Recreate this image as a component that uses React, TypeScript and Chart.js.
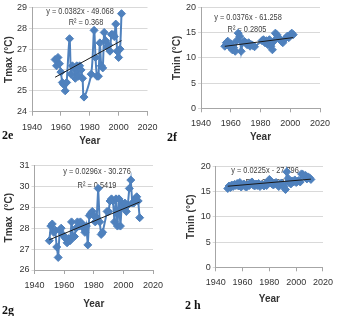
import React, { useEffect, useRef } from "react";
import { Chart, registerables } from "chart.js";

Chart.register(...registerables);

// ---- data -----------------------------------------------------------------

// Year axis ticks shared by all four panels
const yearTicks = [1940, 1960, 1980, 2000, 2020];

// 2e: annual maximum temperature
const yearsE = [1956, 1957, 1958, 1959, 1960, 1961, 1962, 1963, 1964, 1966, 1967, 1968, 1969, 1970, 1971, 1972, 1973, 1974, 1975, 1976, 1981, 1983, 1984, 1985, 1986, 1987, 1988, 1989, 1990, 1991, 1992, 1993, 1994, 1995, 1996, 1997, 1998, 1999, 2000, 2001, 2002];
const tmaxE = [26.5, 26.2, 26.6, 26.3, 25.9, 25.4, 25.3, 25.0, 25.4, 27.5, 25.8, 26.2, 26.1, 25.6, 26.2, 25.7, 26.2, 26.0, 25.6, 24.7, 25.8, 27.9, 26.6, 25.7, 25.7, 27.3, 26.2, 26.1, 27.8, 27.4, 27.1, 27.2, 26.9, 27.7, 27.7, 27.6, 28.2, 26.9, 26.6, 27.0, 28.7];
const ticksE = [24, 25, 26, 27, 28, 29];
const slopeE = 0.0382;
const interceptE = -49.068;
const r2E = "0.368";

// 2f: annual minimum temperature
const yearsF = [1956, 1957, 1958, 1959, 1960, 1961, 1962, 1963, 1964, 1965, 1966, 1967, 1968, 1969, 1970, 1971, 1972, 1973, 1974, 1975, 1976, 1981, 1982, 1983, 1984, 1985, 1986, 1987, 1988, 1989, 1990, 1991, 1992, 1993, 1994, 1995, 1996, 1997, 1998, 1999, 2000, 2001, 2002];
const tminF = [12.3, 13.0, 13.3, 12.3, 12.8, 11.6, 12.0, 11.3, 13.4, 14.9, 14.3, 11.3, 13.0, 13.3, 13.0, 12.6, 13.0, 12.3, 12.6, 12.4, 12.2, 13.4, 13.6, 13.0, 13.4, 12.6, 13.6, 12.3, 11.6, 13.3, 14.9, 14.6, 14.1, 13.6, 13.3, 13.0, 13.6, 13.9, 14.3, 14.0, 14.6, 14.9, 14.6];
const ticksF = [0, 5, 10, 15, 20];
const slopeF = 0.0376;
const interceptF = -61.258;
const r2F = "0.2805";

// 2g: annual maximum temperature
const yearsG = [1950, 1951, 1952, 1953, 1954, 1955, 1956, 1957, 1958, 1959, 1960, 1961, 1962, 1963, 1964, 1965, 1966, 1967, 1968, 1969, 1970, 1971, 1972, 1973, 1974, 1975, 1976, 1977, 1978, 1979, 1980, 1981, 1982, 1983, 1984, 1985, 1986, 1989, 1990, 1991, 1992, 1993, 1994, 1995, 1996, 1997, 1998, 1999, 2000, 2001, 2002, 2003, 2004, 2005, 2006, 2007, 2008, 2009, 2010, 2011];
const tmaxG = [27.4, 28.1, 28.2, 27.8, 27.9, 27.1, 26.6, 27.9, 28.0, 27.7, 27.6, 27.5, 27.3, 27.5, 27.4, 28.3, 27.6, 27.6, 28.0, 28.3, 28.1, 28.3, 28.2, 28.0, 27.8, 28.1, 27.2, 28.6, 28.7, 28.8, 28.6, 28.3, 28.5, 29.9, 28.3, 27.7, 27.8, 28.8, 28.8, 29.3, 29.4, 29.3, 28.3, 29.4, 28.1, 29.4, 28.1, 29.2, 29.0, 29.2, 28.8, 29.1, 29.9, 30.3, 29.2, 29.2, 29.4, 29.5, 29.3, 28.5];
const ticksG = [26, 27, 28, 29, 30, 31];
const slopeG = 0.0296;
const interceptG = -30.276;
const r2G = "0.5419";

// 2h: annual minimum temperature
const yearsH = [1949, 1950, 1951, 1952, 1953, 1954, 1955, 1956, 1957, 1958, 1959, 1960, 1961, 1962, 1963, 1964, 1965, 1966, 1967, 1968, 1969, 1970, 1971, 1972, 1973, 1974, 1975, 1976, 1977, 1978, 1979, 1980, 1981, 1982, 1983, 1984, 1985, 1986, 1987, 1988, 1989, 1990, 1991, 1992, 1993, 1994, 1995, 1996, 1997, 1998, 1999, 2000, 2001, 2002, 2003, 2004, 2005, 2006, 2007, 2008, 2009, 2010, 2011];
const tminH = [15.6, 16.1, 15.8, 16.3, 16.0, 16.4, 16.2, 16.6, 16.1, 16.8, 15.9, 16.3, 16.5, 16.0, 15.9, 16.4, 16.2, 16.7, 16.9, 16.3, 16.1, 16.5, 16.2, 16.6, 16.0, 16.4, 16.3, 16.1, 16.6, 16.2, 16.8, 17.4, 16.9, 16.5, 16.3, 16.6, 16.8, 16.4, 16.0, 16.5, 16.7, 16.2, 16.0, 15.4, 18.9, 17.6, 16.8, 16.5, 17.1, 16.9, 17.3, 16.8, 17.0, 17.2, 16.9, 18.5, 18.4, 18.0, 18.2, 17.5, 17.9, 17.7, 17.4];
const ticksH = [0, 5, 10, 15, 20];
const slopeH = 0.0225;
const interceptH = -27.796;
const r2H = "0.4123";

// ---- styling ----------------------------------------------------------------

const SANS = '"Liberation Sans", Arial, sans-serif';
const SERIES = "#4F81BD";
const TEXT = "#333333";

type Geometry = {
  left: number; // canvas position on the page
  top: number;
  width: number;
  height: number;
  plotLeft: number; // y-axis width
  plotTop: number;
  padRight: number;
  xAxisHeight: number;
  yTitlePad: number;
  xTitlePad: number;
  eq1: [number, number];
  eq2: [number, number];
};

type PanelProps = {
  years: number[];
  values: number[];
  yTicks: number[];
  yTitle: string;
  slope: number;
  intercept: number;
  r2: string;
  smooth: number;
  geo: Geometry;
};

function Panel({ years, values, yTicks, yTitle, slope, intercept, r2, smooth, geo }: PanelProps) {
  const ref = useRef<HTMLCanvasElement | null>(null);

  useEffect(() => {
    if (!ref.current) return;
    const points = years.map((x, i) => ({ x, y: values[i] }));
    const x0 = years[0];
    const x1 = years[years.length - 1];
    const trend = [
      { x: x0, y: slope * x0 + intercept },
      { x: x1, y: slope * x1 + intercept },
    ];
    const eqText = `y = ${slope}x - ${Math.abs(intercept)}`;
    const r2Text = `R\u00B2 = ${r2}`;

    // Trendline equation, drawn in a condensed face beneath the series
    const equationLabel = {
      id: "equationLabel",
      beforeDatasetsDraw(chart: Chart) {
        const ctx = chart.ctx;
        const put = (text: string, x: number, y: number) => {
          ctx.save();
          ctx.translate(x, y);
          ctx.scale(0.82, 1);
          ctx.fillText(text, 0, 0);
          ctx.restore();
        };
        ctx.save();
        ctx.font = `9px ${SANS}`;
        ctx.fillStyle = "#404040";
        ctx.textAlign = "center";
        ctx.textBaseline = "middle";
        put(eqText, geo.eq1[0], geo.eq1[1]);
        put(r2Text, geo.eq2[0], geo.eq2[1]);
        ctx.restore();
      },
    };

    const chart = new Chart(ref.current, {
      type: "scatter",
      data: {
        datasets: [
          {
            label: "trend",
            data: trend,
            showLine: true,
            borderColor: "#1a1a1a",
            borderWidth: 1,
            pointRadius: 0,
            order: 0,
          },
          {
            label: yTitle,
            data: points,
            showLine: true,
            borderColor: SERIES,
            backgroundColor: SERIES,
            borderWidth: 2,
            tension: smooth,
            pointStyle: "rectRot",
            pointRadius: 4,
            pointBorderWidth: 1,
            pointBorderColor: SERIES,
            pointBackgroundColor: SERIES,
            order: 1,
          },
        ],
      },
      options: {
        animation: false,
        responsive: false,
        devicePixelRatio: 1,
        layout: { padding: { left: 0, top: geo.plotTop, right: geo.padRight, bottom: 0 } },
        plugins: { legend: { display: false }, tooltip: { enabled: false } },
        scales: {
          x: {
            type: "linear",
            position: "bottom",
            min: yearTicks[0],
            max: yearTicks[yearTicks.length - 1],
            afterBuildTicks: (s: any) => {
              s.ticks = yearTicks.map((value) => ({ value }));
            },
            afterFit: (s: any) => {
              s.height = geo.xAxisHeight;
            },
            ticks: {
              callback: (v: any) => String(v),
              font: { family: SANS, size: 9 },
              color: TEXT,
              padding: 6,
              maxRotation: 0,
              autoSkip: false,
            },
            grid: { display: true, drawOnChartArea: false, drawTicks: true, tickLength: 4, color: "#a6a6a6" },
            border: { display: true, color: "#a6a6a6", width: 1 },
            title: {
              display: true,
              text: "Year",
              font: { family: SANS, size: 10, weight: "bold" },
              color: TEXT,
              padding: { top: 0, bottom: geo.xTitlePad },
            },
          },
          y: {
            type: "linear",
            position: "left",
            min: yTicks[0],
            max: yTicks[yTicks.length - 1],
            afterBuildTicks: (s: any) => {
              s.ticks = yTicks.map((value) => ({ value }));
            },
            afterFit: (s: any) => {
              s.width = geo.plotLeft;
            },
            ticks: {
              callback: (v: any) => String(v),
              font: { family: SANS, size: 9 },
              color: TEXT,
              padding: 2,
              autoSkip: false,
            },
            grid: { color: "#d9d9d9", tickLength: 3, drawTicks: true },
            border: { display: true, color: "#a6a6a6", width: 1 },
            title: {
              display: true,
              text: yTitle,
              font: { family: SANS, size: 10, weight: "bold" },
              color: TEXT,
              padding: { top: geo.yTitlePad, bottom: 0 },
            },
          },
        },
      },
      plugins: [equationLabel],
    });
    return () => chart.destroy();
  }, []);

  return (
    <canvas
      ref={ref}
      width={geo.width}
      height={geo.height}
      style={{ position: "absolute", left: geo.left, top: geo.top, width: geo.width, height: geo.height }}
    />
  );
}

const labelStyle = (left: number, top: number): React.CSSProperties => ({
  position: "absolute",
  left,
  top,
  font: `bold 12px "Liberation Serif", serif`,
  lineHeight: "14px",
  color: "#111",
  whiteSpace: "pre",
});

export default function App() {
  return (
    <div style={{ position: "absolute", left: 0, top: 0, width: 339, height: 316, background: "#fff", overflow: "hidden" }}>
      <Panel
        years={yearsE}
        values={tmaxE}
        yTicks={ticksE}
        yTitle="Tmax (°C)"
        slope={slopeE}
        intercept={interceptE}
        r2={r2E}
        smooth={0.3}
        geo={{ left: 0, top: 0, width: 170, height: 158, plotLeft: 32, plotTop: 7.3, padRight: 22.5, xAxisHeight: 46.3, yTitlePad: 3, xTitlePad: 10.3, eq1: [80, 11.7], eq2: [86, 22.7] }}
      />
      <Panel
        years={yearsF}
        values={tminF}
        yTicks={ticksF}
        yTitle="Tmin (°C)"
        slope={slopeF}
        intercept={interceptF}
        r2={r2F}
        smooth={0}
        geo={{ left: 170, top: 0, width: 169, height: 158, plotLeft: 31, plotTop: 6.7, padRight: 19, xAxisHeight: 49.7, yTitlePad: 1, xTitlePad: 15, eq1: [78, 17.3], eq2: [77, 30] }}
      />
      <Panel
        years={yearsG}
        values={tmaxG}
        yTicks={ticksG}
        yTitle="Tmax  (°C)"
        slope={slopeG}
        intercept={interceptG}
        r2={r2G}
        smooth={0}
        geo={{ left: 0, top: 158, width: 170, height: 158, plotLeft: 34.5, plotTop: 5.3, padRight: 17, xAxisHeight: 46, yTitlePad: 3, xTitlePad: 5.3, eq1: [97, 14], eq2: [97, 27.3] }}
      />
      <Panel
        years={yearsH}
        values={tminH}
        yTicks={ticksH}
        yTitle="Tmin (°C)"
        slope={slopeH}
        intercept={interceptH}
        r2={r2H}
        smooth={0}
        geo={{ left: 170, top: 158, width: 169, height: 158, plotLeft: 45.7, plotTop: 8.3, padRight: 16, xAxisHeight: 48.7, yTitlePad: 15.7, xTitlePad: 10.3, eq1: [95, 12.7], eq2: [95, 25] }}
      />
      <div style={labelStyle(2, 128)}>2e</div>
      <div style={labelStyle(167, 130)}>2f</div>
      <div style={labelStyle(2, 303)}>2g</div>
      <div style={labelStyle(185, 298)}>2 h</div>
    </div>
  );
}
